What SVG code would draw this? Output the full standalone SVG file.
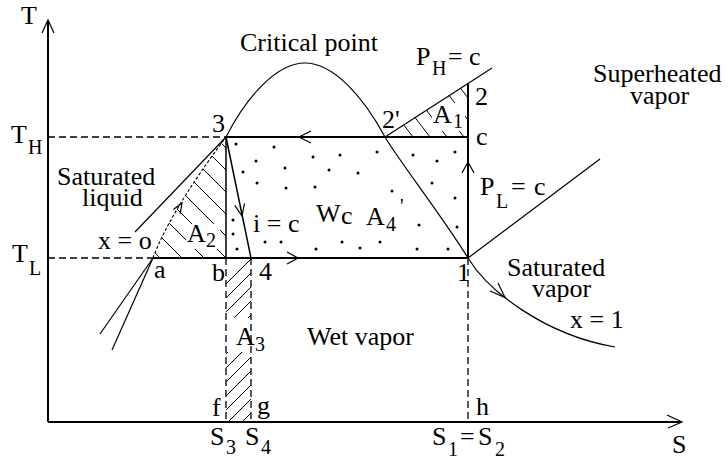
<svg xmlns="http://www.w3.org/2000/svg" width="728" height="460" viewBox="0 0 728 460">
<style>
.t{font-family:"Liberation Serif","Times New Roman",serif;font-size:26px;fill:#000}
.s{font-size:20px}
.ln{fill:none;stroke:#000;stroke-width:1.2}
.th{fill:none;stroke:#000;stroke-width:2}
.md{fill:none;stroke:#000;stroke-width:1.5}
.ds{fill:none;stroke:#000;stroke-width:1.3;stroke-dasharray:7 4}
.dsd{fill:none;stroke:#000;stroke-width:1.1;stroke-dasharray:3 2}
.ah{fill:none;stroke:#000;stroke-width:1.2}
.h{stroke:#000;stroke-width:1}
</style>
<defs>
<mask id="mA2"><path d="M153,258 Q170,212 226,137 L226,258 Z" fill="#fff"/><rect x="186" y="224" width="34" height="25" fill="#000"/></mask>
<mask id="mA1"><polygon points="385,137 468,83 468,137" fill="#fff"/><rect x="432" y="103" width="33" height="28" fill="#000"/></mask>
<mask id="mA3"><rect x="226" y="258" width="25" height="164" fill="#fff"/><rect x="225" y="318" width="28" height="34" fill="#000"/></mask>
</defs>
<rect width="728" height="460" fill="#fff"/>

<g id="axes">
<line class="th" x1="48" y1="422" x2="48" y2="21"/>
<polyline class="ah" points="42,33 48,20 54,33"/>
<line class="th" x1="48" y1="422" x2="681" y2="422"/>
<polyline class="ah" points="667,415 682,422 668,428"/>
<text class="t" x="21" y="24">T</text>
<text class="t" x="672" y="453">S</text>
<g id="TH"><text class="t" x="11" y="143">T</text><text class="t s" x="28" y="154">H</text></g>
<g id="TL"><text class="t" x="12" y="262">T</text><text class="t s" x="29" y="275">L</text></g>
</g>

<g id="hatch-A2" mask="url(#mA2)">
<line class="h" x1="140" y1="238" x2="240" y2="338"/>
<line class="h" x1="140" y1="216" x2="240" y2="316"/>
<line class="h" x1="140" y1="194" x2="240" y2="294"/>
<line class="h" x1="140" y1="172" x2="240" y2="272"/>
<line class="h" x1="140" y1="150" x2="240" y2="250"/>
<line class="h" x1="140" y1="128" x2="240" y2="228"/>
<line class="h" x1="140" y1="106" x2="240" y2="206"/>
<line class="h" x1="140" y1="84" x2="240" y2="184"/>
<line class="h" x1="140" y1="62" x2="240" y2="162"/>
</g>
<g id="hatch-A1" mask="url(#mA1)">
<line class="h" x1="380" y1="94.1" x2="470" y2="211.1"/>
<line class="h" x1="380" y1="72" x2="470" y2="189"/>
<line class="h" x1="380" y1="49.9" x2="470" y2="166.9"/>
<line class="h" x1="380" y1="27.8" x2="470" y2="144.8"/>
<line class="h" x1="380" y1="5.7" x2="470" y2="122.7"/>
<line class="h" x1="380" y1="-16.4" x2="470" y2="100.6"/>
</g>
<g id="hatch-A3" mask="url(#mA3)">
<line class="h" x1="220" y1="290" x2="260" y2="250"/>
<line class="h" x1="220" y1="304" x2="260" y2="264"/>
<line class="h" x1="220" y1="318" x2="260" y2="278"/>
<line class="h" x1="220" y1="332" x2="260" y2="292"/>
<line class="h" x1="220" y1="346" x2="260" y2="306"/>
<line class="h" x1="220" y1="360" x2="260" y2="320"/>
<line class="h" x1="220" y1="374" x2="260" y2="334"/>
<line class="h" x1="220" y1="388" x2="260" y2="348"/>
<line class="h" x1="220" y1="402" x2="260" y2="362"/>
<line class="h" x1="220" y1="416" x2="260" y2="376"/>
<line class="h" x1="220" y1="430" x2="260" y2="390"/>
<line class="h" x1="220" y1="444" x2="260" y2="404"/>
<line class="h" x1="220" y1="458" x2="260" y2="418"/>
</g>

<g id="dots-Wc" fill="#000">
<circle cx="236" cy="144" r="1.5"/><circle cx="274" cy="147" r="1.5"/><circle cx="313" cy="157" r="1.5"/>
<circle cx="340" cy="155" r="1.5"/><circle cx="377" cy="152" r="1.5"/><circle cx="413" cy="155" r="1.5"/>
<circle cx="455" cy="152" r="1.5"/><circle cx="256" cy="161" r="1.5"/><circle cx="285" cy="168" r="1.5"/>
<circle cx="329" cy="170" r="1.5"/><circle cx="358" cy="173" r="1.5"/><circle cx="437" cy="161" r="1.5"/>
<circle cx="243" cy="172" r="1.5"/><circle cx="257" cy="183" r="1.5"/><circle cx="286" cy="188" r="1.5"/>
<circle cx="315" cy="187" r="1.5"/><circle cx="392" cy="191" r="1.5"/><circle cx="432" cy="183" r="1.5"/>
<circle cx="455" cy="198" r="1.5"/><circle cx="233" cy="220" r="1.5"/><circle cx="233" cy="234" r="1.5"/>
<circle cx="237" cy="249" r="1.5"/><circle cx="265" cy="242" r="1.5"/><circle cx="281" cy="242" r="1.5"/>
<circle cx="316" cy="249" r="1.5"/><circle cx="342" cy="242" r="1.5"/><circle cx="360" cy="248" r="1.5"/>
<circle cx="380" cy="242" r="1.5"/><circle cx="417" cy="249" r="1.5"/><circle cx="448" cy="249" r="1.5"/>
<circle cx="419" cy="225" r="1.5"/><circle cx="457" cy="227" r="1.5"/>
</g>

<g id="connectors">
<path id="dome" class="ln" d="M226,137 C245,100 275,63 305,63 C335,63 365,100 385,137 C397,158 445,220 468,258 C488,291 545,335 615,347"/>
<line class="ln" x1="385" y1="137" x2="492" y2="68"/>
<line class="ln" x1="468" y1="258" x2="600" y2="159"/>
<line class="ln" x1="135" y1="232" x2="226" y2="137"/>
<line class="ln" x1="100" y1="334" x2="153" y2="258"/>
<line class="ln" x1="112" y1="350" x2="153" y2="258"/>
<path class="dsd" d="M153,258 Q170,212 226,137"/>
<polyline class="ah" points="173.4,209.5 182,203 180.2,213.7"/>
<line class="ds" x1="48" y1="137" x2="226" y2="137"/>
<line class="ds" x1="48" y1="258" x2="153" y2="258"/>
<line class="th" x1="226" y1="137" x2="468" y2="137"/>
<polyline class="ah" points="311,131 299,137 311,143"/>
<line class="th" x1="468" y1="258" x2="468" y2="83"/>
<polyline class="ah" points="462,173 468,162 474,173"/>
<line class="th" x1="153" y1="258" x2="468" y2="258"/>
<polyline class="ah" points="287,252 298,258 287,264"/>
<line class="md" x1="226" y1="137" x2="226" y2="258"/>
<line class="md" x1="226" y1="137" x2="251" y2="258"/>
<polyline class="ah" points="234.7,205.3 242,216 244.5,203.3"/>
<polyline class="ah" points="498,283 505,297.5 490,291"/>
<line class="ds" x1="226" y1="258" x2="226" y2="422"/>
<line class="ds" x1="251" y1="258" x2="251" y2="422"/>
<line class="ds" x1="468" y1="258" x2="468" y2="422"/>
</g>

<g id="labels">
<text class="t" x="240" y="51">Critical point</text>
<g id="PH"><text class="t" x="416" y="65">P</text><text class="t s" x="432" y="75">H</text><text class="t" x="448" y="65">=</text><text class="t" x="469" y="65">c</text></g>
<g id="PL"><text class="t" x="480" y="195">P</text><text class="t s" x="496" y="208">L</text><text class="t" x="511" y="195">=</text><text class="t" x="534" y="195">c</text></g>
<text class="t" x="593" y="82">Superheated<tspan x="630" y="104">vapor</tspan></text>
<text class="t" x="57" y="185">Saturated<tspan x="82" y="206">liquid</tspan></text>
<text class="t" x="98" y="249">x = o</text>
<text class="t" x="507" y="276">Saturated<tspan x="532" y="297">vapor</tspan></text>
<text class="t" x="570" y="328">x = 1</text>
<text class="t" x="307" y="345">Wet vapor</text>
<text class="t" x="253" y="232">i = c</text>
<g id="Wc"><text class="t" x="316" y="222">W</text><text class="t" x="341" y="224">c</text></g>
<g id="A4"><text class="t" x="366" y="225">A</text><text class="t s" x="386" y="231">4</text><text class="t s" x="400" y="213">'</text></g>
<g id="A1"><text class="t" x="433" y="123">A</text><text class="t s" x="453" y="128">1</text></g>
<g id="A2"><text class="t" x="187" y="242">A</text><text class="t s" x="206" y="247">2</text></g>
<g id="A3"><text class="t" x="236" y="345">A</text><text class="t s" x="255" y="351">3</text></g>
</g>

<g id="pt-3"><text class="t" x="212" y="132">3</text></g>
<g id="pt-2p"><text class="t" x="382" y="128">2'</text></g>
<g id="pt-2"><text class="t" x="475" y="105">2</text></g>
<g id="pt-c"><text class="t" x="476" y="145">c</text></g>
<g id="pt-1"><text class="t" x="457" y="281">1</text></g>
<g id="pt-a"><text class="t" x="154" y="278">a</text></g>
<g id="pt-b"><text class="t" x="212" y="281">b</text></g>
<g id="pt-4"><text class="t" x="259" y="280">4</text></g>
<g id="pt-f"><text class="t" x="212" y="416">f</text></g>
<g id="pt-g"><text class="t" x="257" y="414">g</text></g>
<g id="pt-h"><text class="t" x="476" y="415">h</text></g>
<g id="S3"><text class="t" x="210" y="445">S</text><text class="t s" x="226" y="454">3</text></g>
<g id="S4"><text class="t" x="245" y="445">S</text><text class="t s" x="261" y="454">4</text></g>
<g id="S12"><text class="t" x="432" y="445">S</text><text class="t s" x="448" y="456">1</text><text class="t" x="460" y="445">=</text><text class="t" x="478" y="445">S</text><text class="t s" x="495" y="456">2</text></g>
</svg>
